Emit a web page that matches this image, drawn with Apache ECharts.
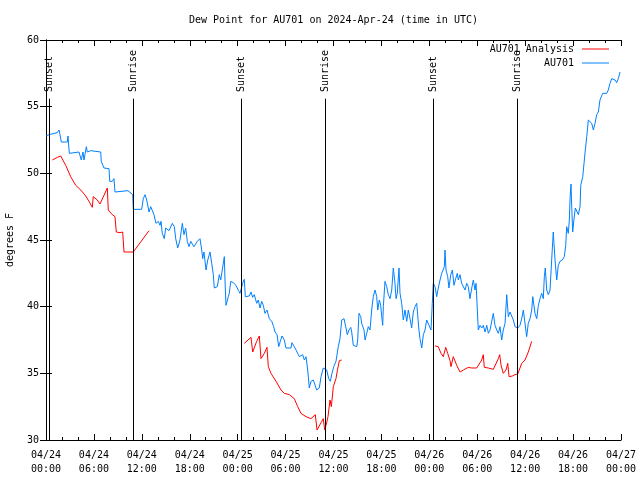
<!DOCTYPE html>
<html>
<head>
<meta charset="utf-8">
<script src="https://cdn.jsdelivr.net/npm/echarts@6/dist/echarts.min.js"></script>
<style>html,body{margin:0;padding:0;background:#fff}#c{width:640px;height:480px}</style>
</head>
<body>
<div id="c"></div>
<script>
// hours since 2024-04-24 00:00 UTC, dew point (°F)
var au701 = [
[0,52.8],[0.38,52.9],[0.63,53.0],[1.42,53.05],[1.63,53.25],[1.75,52.9],[1.92,52.35],[2.67,52.35],[2.75,52.8],[2.92,51.5],[3.01,51.6],[4.13,51.6],[4.26,51.5],[4.42,51.0],[4.63,51.6],[4.76,51.0],[4.88,51.4],[5.05,52.0],[5.17,51.6],[5.60,51.7],[5.76,51.6],[6.85,51.6],[6.92,50.9],[7.26,50.4],[7.89,50.35],[7.98,49.4],[8.30,49.4],[8.51,49.6],[8.64,48.6],[10.27,48.7],[10.52,48.6],[10.86,48.4],[10.93,47.3],[11.98,47.3],[12.18,48.1],[12.40,48.4],[12.61,48.0],[12.90,47.1],[13.11,47.5],[13.31,47.6],[13.52,46.9],[13.77,46.25],[14.06,46.4],[14.28,46.1],[14.40,46.4],[14.56,45.5],[14.81,45.1],[14.99,45.9],[15.19,46.0],[15.40,45.7],[15.62,45.8],[15.82,46.25],[16.07,46.0],[16.24,45.1],[16.49,44.4],[16.78,45.0],[17.07,46.25],[17.28,45.4],[17.49,45.9],[17.69,44.9],[17.91,44.5],[18.12,44.9],[18.32,45.0],[18.53,44.5],[18.75,44.4],[18.95,44.9],[19.28,45.1],[19.50,44.25],[19.62,43.6],[19.78,44.1],[20.04,42.75],[20.25,43.5],[20.54,44.1],[20.75,43.25],[20.95,42.4],[21.07,41.4],[21.45,41.5],[21.70,42.4],[21.88,42.0],[22.13,41.9],[22.33,43.75],[22.41,42.0],[22.54,40.1],[22.83,40.75],[22.95,41.0],[23.13,41.9],[23.45,41.8],[23.79,41.6],[24.10,41.2],[24.29,41.0],[24.63,41.75],[24.83,42.05],[24.96,40.75],[25.46,40.8],[25.67,41.1],[25.88,40.7],[26.08,40.9],[26.38,40.25],[26.58,40.5],[26.80,39.9],[27.01,40.4],[27.21,40.1],[27.42,39.5],[27.67,39.75],[27.96,39.1],[28.26,38.9],[28.51,38.5],[28.68,38.1],[28.93,37.9],[29.14,37.0],[29.34,37.4],[29.55,37.8],[29.84,37.5],[30.05,36.9],[30.68,36.9],[30.80,37.3],[31.09,37.0],[31.31,36.75],[31.52,36.8],[31.72,36.25],[32.14,36.4],[32.35,36.0],[32.56,36.25],[32.77,35.25],[32.97,33.9],[33.18,34.4],[33.47,34.5],[33.72,34.6],[33.90,33.75],[34.22,33.9],[34.44,34.75],[34.72,35.4],[34.97,35.55],[35.15,35.25],[35.40,34.6],[35.60,34.4],[35.81,35.0],[36.03,35.5],[36.31,35.9],[36.60,37.0],[36.81,37.6],[37.03,39.0],[37.32,39.1],[37.53,38.5],[37.73,37.9],[37.94,38.25],[38.16,38.45],[38.28,38.1],[38.48,37.1],[38.69,37.25],[38.91,37.0],[39.03,37.5],[39.19,39.5],[39.41,39.25],[39.53,38.75],[39.82,38.25],[39.95,37.5],[40.16,38.0],[40.36,38.5],[40.57,38.25],[40.78,39.75],[40.98,40.75],[41.20,41.25],[41.41,40.75],[41.54,39.75],[41.74,40.5],[41.91,40.1],[42.04,39.25],[42.16,38.6],[42.24,40.0],[42.45,41.9],[42.66,41.5],[42.86,40.9],[43.08,40.6],[43.29,41.25],[43.49,42.9],[43.70,41.75],[43.83,40.6],[43.99,41.0],[44.20,42.9],[44.33,41.0],[44.54,40.25],[44.74,39.0],[44.95,39.75],[45.17,38.9],[45.37,39.75],[45.58,39.1],[45.79,38.4],[45.99,39.6],[46.21,40.0],[46.42,40.25],[46.54,39.4],[46.67,38.4],[46.83,37.6],[47.05,36.9],[47.25,37.9],[47.46,38.25],[47.67,39.0],[47.96,38.6],[48.21,38.25],[48.37,40.25],[48.50,41.75],[48.71,41.5],[48.92,40.75],[49.12,41.4],[49.34,42.0],[49.55,42.5],[49.75,42.6],[49.88,43.0],[49.96,44.25],[50.09,42.75],[50.30,42.25],[50.46,41.4],[50.68,42.4],[50.88,42.75],[51.09,41.6],[51.30,42.1],[51.50,42.5],[51.63,42.0],[51.84,42.4],[52.05,41.75],[52.26,41.6],[52.47,41.25],[52.68,41.75],[52.88,41.5],[53.09,40.6],[53.31,41.4],[53.51,42.0],[53.72,41.25],[53.85,41.75],[54.01,39.75],[54.13,38.25],[54.35,38.6],[54.56,38.4],[54.76,38.6],[54.97,38.1],[55.19,38.6],[55.39,38.0],[55.60,38.25],[55.81,38.4],[56.01,39.5],[56.22,38.6],[56.44,38.25],[56.64,38.0],[56.85,38.5],[57.06,37.5],[57.26,38.25],[57.48,38.75],[57.69,40.9],[57.89,39.25],[58.10,39.6],[58.32,39.5],[58.52,39.0],[58.73,38.5],[59.07,38.4],[59.35,38.6],[59.57,39.1],[59.77,39.75],[59.98,39.8],[60.19,37.75],[60.39,38.75],[60.61,39.1],[60.82,39.75],[60.95,40.75],[61.11,40.7],[61.23,39.5],[61.45,39.1],[61.65,40.1],[61.86,40.6],[62.07,41.0],[62.27,40.6],[62.40,42.25],[62.52,42.9],[62.70,41.25],[62.90,40.9],[63.11,41.25],[63.32,43.5],[63.45,44.9],[63.52,45.6],[63.74,43.5],[63.95,42.0],[64.15,43.1],[64.36,43.4],[64.65,43.5],[64.90,43.75],[65.08,44.6],[65.20,46.0],[65.40,45.5],[65.53,46.5],[65.62,48.1],[65.74,49.2],[65.83,47.5],[65.95,45.6],[66.12,46.6],[66.28,47.4],[66.46,47.25],[66.66,46.9],[66.87,47.5],[66.96,49.1],[67.21,49.75],[67.37,50.75],[67.53,51.75],[67.71,52.75],[67.91,54.0],[68.12,54.05],[68.33,53.75],[68.54,53.25],[68.75,53.75],[68.96,54.4],[69.16,54.6],[69.37,55.5],[69.71,56.0],[70.21,56.0],[70.41,56.25],[70.62,56.75],[70.84,57.1],[71.04,57.25],[71.25,57.0],[71.46,56.8],[71.66,57.1],[71.88,57.6]
];
var au701Analysis = [
[0.79,51.0],[1.42,51.2],[1.84,51.3],[2.47,50.6],[3.09,49.75],[3.72,49.1],[4.35,48.75],[4.97,48.3],[5.38,47.9],[5.80,47.45],[5.92,48.25],[6.42,48.0],[6.76,47.7],[7.68,48.9],[7.80,47.25],[8.30,46.9],[8.64,46.75],[8.80,45.6],[9.27,45.55],[9.60,45.6],[9.77,44.1],[10.93,44.1],[12.90,45.7],
[18.5,null],
[24.83,37.25],[25.04,37.4],[25.67,37.7],[25.88,36.6],[26.38,37.4],[26.71,37.8],[26.92,36.1],[27.34,36.5],[27.67,36.95],[27.84,35.5],[28.17,35.0],[28.80,34.4],[29.43,33.75],[29.84,33.5],[30.47,33.4],[31.09,33.1],[31.52,32.5],[31.93,32.0],[32.56,31.75],[33.18,31.6],[33.72,31.9],[33.94,30.75],[34.44,31.3],[34.72,31.6],[34.90,30.75],[35.15,31.3],[35.31,31.75],[35.56,33.0],[35.73,32.5],[35.98,34.0],[36.31,34.6],[36.48,35.2],[36.73,35.95],[37.03,36.0],
[42.0,null],
[48.71,37.05],[49.12,37.0],[49.46,36.5],[49.75,36.25],[50.05,36.95],[50.30,36.5],[50.59,35.95],[50.71,35.5],[51.00,36.25],[51.43,35.6],[51.84,35.1],[52.26,35.25],[52.88,35.45],[53.31,35.4],[53.93,35.4],[54.56,36.0],[54.76,36.4],[54.88,35.45],[55.39,35.4],[56.01,35.3],[56.64,36.1],[56.81,36.4],[56.98,35.6],[57.26,35.0],[57.60,35.25],[57.82,35.75],[57.98,34.75],[58.39,34.8],[58.73,34.9],[59.07,34.95],[59.35,35.4],[59.57,35.75],[59.98,36.0],[60.39,36.6],[60.82,37.4]
];
var sunNames = ['Sunset','Sunrise','Sunset','Sunrise','Sunset','Sunrise'];
var sunHours = [0.41, 10.93, 24.42, 34.97, 48.50, 59.02];
var xTickDates = ['04/24','04/24','04/24','04/24','04/25','04/25','04/25','04/25','04/26','04/26','04/26','04/26','04/27'];
var xTickTimes = ['00:00','06:00','12:00','18:00','00:00','06:00','12:00','18:00','00:00','06:00','12:00','18:00','00:00'];
var yTicks = [30, 35, 40, 45, 50, 55, 60];

var FONT = 'DejaVu Sans Mono';
var lineTop = 55.6, labelY = 56.1;

var chart = echarts.init(document.getElementById('c'), null, {renderer: 'canvas'});
var sunLines = sunHours.map(function (h) { return [{coord: [h, yTicks[0]]}, {coord: [h, lineTop]}]; });
var sunLabels = sunHours.map(function (h, i) { return {name: sunNames[i], value: [h, labelY]}; });

var axisCommon = {
  type: 'value', min: 0, max: 72, interval: 6,
  axisLine: {show: true, lineStyle: {color: '#000', width: 1}},
  axisTick: {show: true, inside: true, length: 6, lineStyle: {color: '#000'}},
  minorTick: {show: true, splitNumber: 3, length: 3, lineStyle: {color: '#000'}},
  splitLine: {show: false}
};
var yCommon = {
  type: 'value', min: 30, max: 60, interval: 5,
  axisLine: {show: true, lineStyle: {color: '#000', width: 1}},
  axisTick: {show: true, inside: true, length: 6, lineStyle: {color: '#000'}},
  splitLine: {show: false}
};
var legendCommon = {
  right: 31, orient: 'vertical', align: 'right', padding: 0, icon: 'rect',
  itemWidth: 27, itemHeight: 1, itemGap: 0,
  textStyle: {fontFamily: FONT, fontSize: 10, color: '#000', padding: [0, 3, 0, 0]}
};

chart.setOption({
  animation: false,
  backgroundColor: '#fff',
  textStyle: {fontFamily: FONT},
  title: {
    text: 'Dew Point for AU701 on 2024-Apr-24 (time in UTC)',
    left: 184, top: 10,
    textStyle: {fontFamily: FONT, fontSize: 10, fontWeight: 'normal', color: '#000'}
  },
  grid: {left: 46, right: 19, top: 40, bottom: 40, containLabel: false, outerBoundsMode: 'none'},
  legend: [
    Object.assign({}, legendCommon, {data: ['AU701 Analysis'], top: 44}),
    Object.assign({}, legendCommon, {data: ['AU701'], top: 58})
  ],
  xAxis: [
    Object.assign({}, axisCommon, {
      position: 'bottom',
      axisLabel: {
        show: true, margin: 8, color: '#000', fontFamily: FONT, fontSize: 10, lineHeight: 14,
        formatter: function (v) { var i = Math.round(v / 6); return xTickDates[i] + '\n' + xTickTimes[i]; }
      }
    }),
    Object.assign({}, axisCommon, {position: 'top', axisLabel: {show: false}})
  ],
  yAxis: [
    Object.assign({}, yCommon, {
      position: 'left',
      name: 'degrees F', nameLocation: 'middle', nameGap: 31, nameRotate: 90,
      nameTextStyle: {fontFamily: FONT, fontSize: 10, color: '#000'},
      axisLabel: {show: true, margin: 7, color: '#000', fontFamily: FONT, fontSize: 10}
    }),
    Object.assign({}, yCommon, {position: 'right', axisLabel: {show: false}})
  ],
  series: [
    {
      name: 'AU701 Analysis', type: 'line', data: au701Analysis, showSymbol: false, symbol: 'none',
      connectNulls: false, color: '#ff0000', lineStyle: {color: '#ff0000', width: 1}, z: 3,
      markLine: {
        silent: true, symbol: ['none', 'none'], animation: false,
        lineStyle: {color: '#000', width: 1, type: 'solid'},
        label: {show: false}, emphasis: {disabled: true},
        data: sunLines
      }
    },
    {
      name: 'AU701', type: 'line', data: au701, showSymbol: false, symbol: 'none',
      color: '#0080ff', lineStyle: {color: '#0080ff', width: 1}, z: 2
    },
    {
      name: 'sun', type: 'scatter', data: sunLabels, symbolSize: 0, silent: true,
      itemStyle: {opacity: 1},
      label: {
        show: true, position: 'inside', rotate: 90, align: 'left', verticalAlign: 'middle',
        formatter: function (p) { return p.name; },
        color: '#000', opacity: 1, fontFamily: FONT, fontSize: 10
      }
    }
  ]
});
</script>
</body>
</html>
